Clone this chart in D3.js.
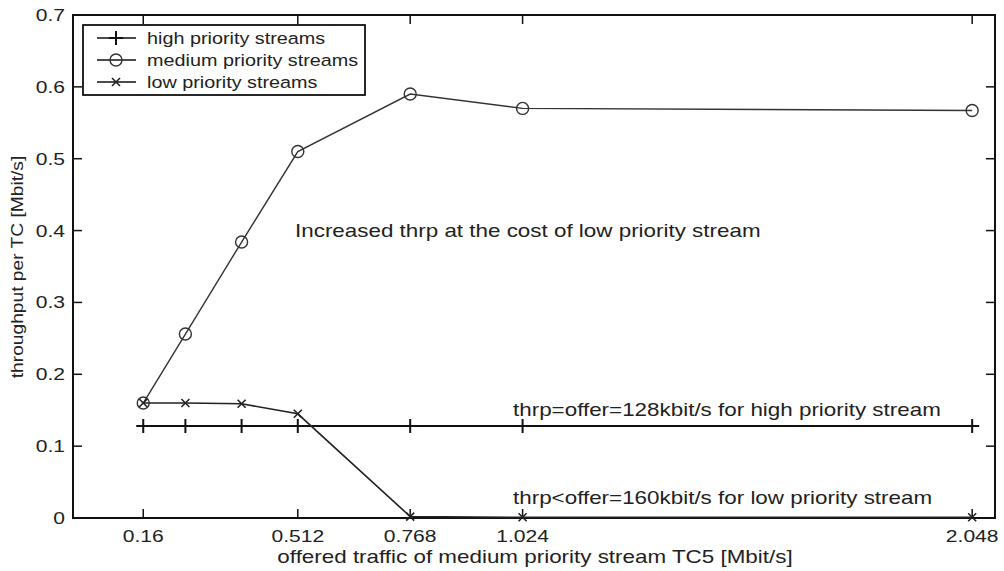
<!DOCTYPE html>
<html>
<head>
<meta charset="utf-8">
<script src="https://cdn.jsdelivr.net/npm/d3@7"></script>
<style>
  html, body { margin: 0; padding: 0; background: #fff; }
  svg text { font-family: "Liberation Sans", Arial, sans-serif; fill: #222; }
</style>
</head>
<body>
<svg id="chart" width="1004" height="571"></svg>
<script>
const offered    = [0.16, 0.256, 0.384, 0.512, 0.768, 1.024, 2.048];
const highPrio   = [0.128, 0.128, 0.128, 0.128, 0.128, 0.128, 0.128];
const mediumPrio = [0.16, 0.256, 0.384, 0.51, 0.59, 0.57, 0.567];
const lowPrio    = [0.16, 0.16, 0.159, 0.145, 0.002, 0.001, 0.001];

const xTicks = [0.16, 0.512, 0.768, 1.024, 2.048];
const xTickLabels = ["0.16", "0.512", "0.768", "1.024", "2.048"];
const yTicks = [0, 0.1, 0.2, 0.3, 0.4, 0.5, 0.6, 0.7];
const yTickLabels = ["0", "0.1", "0.2", "0.3", "0.4", "0.5", "0.6", "0.7"];

const legendLabels = ["high priority streams", "medium priority streams", "low priority streams"];
const xTitle = "offered traffic of medium priority stream TC5 [Mbit/s]";
const yTitle = "throughput per TC [Mbit/s]";

const margin = { top: 15, right: 9, bottom: 53, left: 73 };
const W = 1004, H = 571;
const FONT = 17, SX = 1.24;

const svg = d3.select("#chart");
const x = d3.scaleLinear().domain([0, 2.1]).range([margin.left, W - margin.right]);
const y = d3.scaleLinear().domain([0, 0.7]).range([H - margin.bottom, margin.top]);

// stretched text helper (reference glyphs are wide)
function label(g, tx, ty, str, anchor, size, rot, sx) {
  return g.append("text")
    .attr("transform", `translate(${tx},${ty})` + (rot ? ` rotate(${rot})` : "") + ` scale(${sx || SX},1)`)
    .attr("text-anchor", anchor || "start")
    .style("font-size", (size || FONT) + "px")
    .text(str);
}

// axes: ticks inward on all four sides
const tickLen = 9;
const axisG = svg.append("g");
axisG.selectAll(".xb").data(xTicks).enter().append("line")
  .attr("x1", d => x(d)).attr("x2", d => x(d))
  .attr("y1", y(0)).attr("y2", y(0) - tickLen);
axisG.selectAll(".xt").data(xTicks).enter().append("line")
  .attr("x1", d => x(d)).attr("x2", d => x(d))
  .attr("y1", y(0.7)).attr("y2", y(0.7) + tickLen);
axisG.selectAll(".yl").data(yTicks).enter().append("line")
  .attr("x1", x(0)).attr("x2", x(0) + tickLen)
  .attr("y1", d => y(d)).attr("y2", d => y(d));
axisG.selectAll(".yr").data(yTicks).enter().append("line")
  .attr("x1", x(2.1)).attr("x2", x(2.1) - tickLen)
  .attr("y1", d => y(d)).attr("y2", d => y(d));
axisG.selectAll("line").attr("stroke", "#111").attr("stroke-width", 1.5);

axisG.append("rect")
  .attr("x", x(0)).attr("y", y(0.7))
  .attr("width", x(2.1) - x(0)).attr("height", y(0) - y(0.7))
  .attr("fill", "none").attr("stroke", "#111").attr("stroke-width", 2);

xTicks.forEach((d, i) => label(axisG, x(d), y(0) + 24, xTickLabels[i], "middle"));
yTicks.forEach((d, i) => label(axisG, x(0) - 8, y(d) + 6, yTickLabels[i], "end"));

label(svg, 535, H - 8, xTitle, "middle", 18, 0, 1.245);
label(svg, 23, 267, yTitle, "middle", 16, -90, 1.2);

// series
const line = d3.line().x(d => x(d[0])).y(d => y(d[1]));
const plot = svg.append("g");

const highPts = offered.map((o, i) => [o, highPrio[i]]);
const medPts  = offered.map((o, i) => [o, mediumPrio[i]]);
const lowPts  = offered.map((o, i) => [o, lowPrio[i]]);

plot.append("path").attr("d", line(highPts))
  .attr("fill", "none").attr("stroke", "#111").attr("stroke-width", 2.2);
plot.append("path").attr("d", line(medPts))
  .attr("fill", "none").attr("stroke", "#333").attr("stroke-width", 1.4);
plot.append("path").attr("d", line(lowPts))
  .attr("fill", "none").attr("stroke", "#222").attr("stroke-width", 1.6);

function plusMarker(g, cx, cy) {
  g.append("path").attr("d", `M${cx - 7},${cy}H${cx + 7}M${cx},${cy - 7}V${cy + 7}`)
    .attr("stroke", "#111").attr("stroke-width", 2).attr("fill", "none");
}
function circleMarker(g, cx, cy) {
  g.append("circle").attr("cx", cx).attr("cy", cy).attr("r", 6)
    .attr("fill", "none").attr("stroke", "#333").attr("stroke-width", 1.4);
}
function crossMarker(g, cx, cy) {
  g.append("path").attr("d", `M${cx - 4},${cy - 4}L${cx + 4},${cy + 4}M${cx - 4},${cy + 4}L${cx + 4},${cy - 4}`)
    .attr("stroke", "#222").attr("stroke-width", 1.6).attr("fill", "none");
}
highPts.forEach(p => plusMarker(plot, x(p[0]), y(p[1])));
medPts.forEach(p => circleMarker(plot, x(p[0]), y(p[1])));
lowPts.forEach(p => crossMarker(plot, x(p[0]), y(p[1])));

// annotations
label(svg, 295, 237, "Increased thrp at the cost of low priority stream", "start", 18, 0, 1.245);
label(svg, 513, 416, "thrp=offer=128kbit/s for high priority stream", "start", 18, 0, 1.245);
label(svg, 513, 504, "thrp<offer=160kbit/s for low priority stream", "start", 18, 0, 1.245);

// legend
const lg = svg.append("g");
lg.append("rect").attr("x", 83).attr("y", 25).attr("width", 282).attr("height", 70)
  .attr("fill", "#fff").attr("stroke", "#111").attr("stroke-width", 1.8);
const markers = [plusMarker, circleMarker, crossMarker];
legendLabels.forEach((t, i) => {
  const ly = 38 + i * 22;
  lg.append("line").attr("x1", 97).attr("x2", 136).attr("y1", ly).attr("y2", ly)
    .attr("stroke", "#111").attr("stroke-width", 1.5);
  markers[i](lg, 116, ly);
  label(lg, 147, ly + 6, t, "start", 16.5, 0, 1.2);
});
</script>
</body>
</html>
